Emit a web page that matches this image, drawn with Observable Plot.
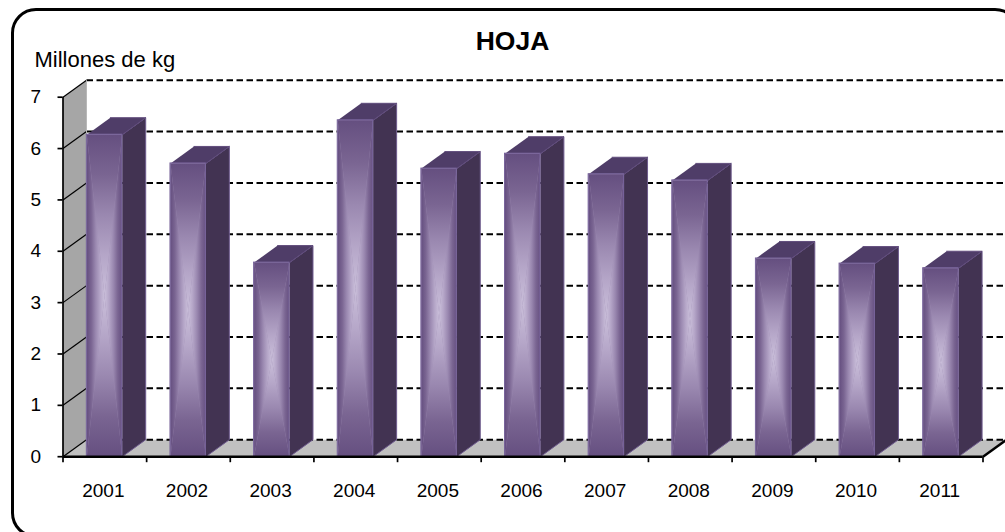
<!DOCTYPE html>
<html><head><meta charset="utf-8">
<script src="https://cdn.jsdelivr.net/npm/d3@7"></script>
<script src="https://cdn.jsdelivr.net/npm/@observablehq/plot@0.6"></script>
<style>
html,body{margin:0;padding:0;background:#fff;overflow:hidden;width:1005px;height:532px}
#frame{position:absolute;left:10.5px;top:7.5px;width:1003px;height:524px;border:3px solid #000;border-radius:25px;box-sizing:content-box}
#chart{position:absolute;left:0;top:0}
svg{font-family:"Liberation Sans",Arial,sans-serif;overflow:visible}
</style></head><body>
<div id="frame"></div><div id="chart"></div>
<script>
const title = "HOJA";
const unitLabel = "Millones de kg";
const years = ["2001","2002","2003","2004","2005","2006","2007","2008","2009","2010","2011"];
const values = [6.27,5.71,3.78,6.55,5.61,5.90,5.50,5.38,3.86,3.76,3.67];
const yTicks = [0,1,2,3,4,5,6,7];
const xEdges = [0,1,2,3,4,5,6,7,8,9,10,11];
const depthX = 0.281, depthY = 0.331;
const barStart = 0.285, barEnd = 0.708;

const bars = values.map((v,i)=>({year:years[i],v,x1:i+barStart,x2:i+barEnd,xm:i+(barStart+barEnd)/2}));
const poly = (name,fn)=>bars.flatMap(b=>fn(b).map(([x,y])=>({id:b.year+name,x,y})));

const wall = [[0,0],[depthX,depthY],[depthX,7+depthY],[0,7]].map(([x,y])=>({x,y}));
const floor = [[0,0],[11,0],[11+depthX,depthY],[depthX,depthY]].map(([x,y])=>({x,y}));
const sideFaces = poly("s",b=>[[b.x2,0],[b.x2+depthX,depthY],[b.x2+depthX,b.v+depthY],[b.x2,b.v]]);
const topFaces = poly("t",b=>[[b.x1,b.v],[b.x2,b.v],[b.x2+depthX,b.v+depthY],[b.x1+depthX,b.v+depthY]]);
const triTop = poly("a",b=>[[b.x1,b.v],[b.x2,b.v],[b.xm,b.v/2]]);
const triBot = poly("b",b=>[[b.x1,0],[b.x2,0],[b.xm,b.v/2]]);
const triL = poly("c",b=>[[b.x1,0],[b.x1,b.v],[b.xm,b.v/2]]);
const triR = poly("d",b=>[[b.x2,0],[b.x2,b.v],[b.xm,b.v/2]]);

const defs = () => {
  const d = d3.create("svg:defs");
  const stops = [[0,"#654f80"],[0.25,"#7a6592"],[0.5,"#9a88b0"],[0.75,"#b5a6c8"],[1,"#cabfda"]];
  const grad = (id,x1,y1,x2,y2)=>{
    const g = d.append("linearGradient").attr("id",id)
      .attr("x1",x1).attr("y1",y1).attr("x2",x2).attr("y2",y2);
    stops.forEach(([o,c])=>g.append("stop").attr("offset",o).attr("stop-color",c));
  };
  grad("gTop",0,0,0,1); grad("gBot",0,1,0,0); grad("gL",0,0,1,0); grad("gR",1,0,0,0);
  return d.node();
};
const tri = (data,fill)=>Plot.line(data,{x:"x",y:"y",z:"id",fill,stroke:"none"});

const plot = Plot.plot({
  width:1005,height:532,
  marginLeft:62.5,marginRight:22.5,marginTop:96.7,marginBottom:75.8,
  style:{background:"transparent",fontFamily:"'Liberation Sans',Arial,sans-serif"},
  x:{domain:[0,11],axis:null},
  y:{domain:[0,7],axis:null},
  marks:[
    defs,
    Plot.line(wall,{x:"x",y:"y",fill:"#a6a6a6",stroke:"none"}),
    Plot.line(floor,{x:"x",y:"y",fill:"#c0c0c0",stroke:"none"}),
    Plot.link(yTicks,{x1:()=>0,x2:()=>depthX,y1:d=>d,y2:d=>d+depthY,stroke:"#000",strokeWidth:1.2}),
    Plot.link(yTicks,{x1:()=>depthX,x2:()=>11+depthX+0.05,y1:d=>d+depthY,y2:d=>d+depthY,stroke:"#000",strokeWidth:2,strokeDasharray:"6.5 3.5"}),
    Plot.link([depthX],{x1:d=>d,x2:d=>d,y1:()=>depthY,y2:()=>7+depthY,stroke:"#b8b8b8",strokeWidth:1}),
    Plot.link([11],{x1:d=>d,x2:d=>d+depthX,y1:()=>0,y2:()=>depthY,stroke:"#000",strokeWidth:2.5}),
    Plot.line(sideFaces,{x:"x",y:"y",z:"id",fill:"#423352",stroke:"#6f5c8e",strokeWidth:1}),
    Plot.line(topFaces,{x:"x",y:"y",z:"id",fill:"#4f3d68",stroke:"#604c7c",strokeWidth:1}),
    Plot.rect(bars,{x1:"x1",x2:"x2",y1:()=>0,y2:"v",fill:"#9a88b0"}),
    tri(triTop,"url(#gTop)"),tri(triBot,"url(#gBot)"),tri(triL,"url(#gL)"),tri(triR,"url(#gR)"),
    Plot.rect(bars,{x1:"x1",x2:"x2",y1:()=>0,y2:"v",fill:"none",stroke:"#77639a",strokeWidth:1}),
    Plot.ruleY([0],{stroke:"#000",strokeWidth:2.5}),
    Plot.ruleX([0],{stroke:"#000",strokeWidth:1.7}),
    Plot.axisY({ticks:yTicks,tickSize:5,tickPadding:17,fontSize:19,label:null,strokeWidth:1.7,tickFormat:d=>d}),
    Plot.axisX({ticks:xEdges,tickSize:6,text:null,label:null,strokeWidth:1.7}),
    Plot.axisX({ticks:xEdges.slice(0,-1).map(d=>d+0.5),tickSize:0,tickPadding:27,dx:-1.5,fontSize:19,label:null,
      tickFormat:d=>years[d-0.5]}),
    Plot.text([title],{frameAnchor:"top-left",dx:512-62.5,dy:31-96.7,fontSize:26.5,fontWeight:"bold",textAnchor:"middle",fill:"#000"}),
    Plot.text([unitLabel],{frameAnchor:"top-left",dx:34-62.5,dy:51-96.7,fontSize:22,textAnchor:"start",fill:"#000"})
  ]
});
document.getElementById("chart").appendChild(plot);
</script>
</body></html>
